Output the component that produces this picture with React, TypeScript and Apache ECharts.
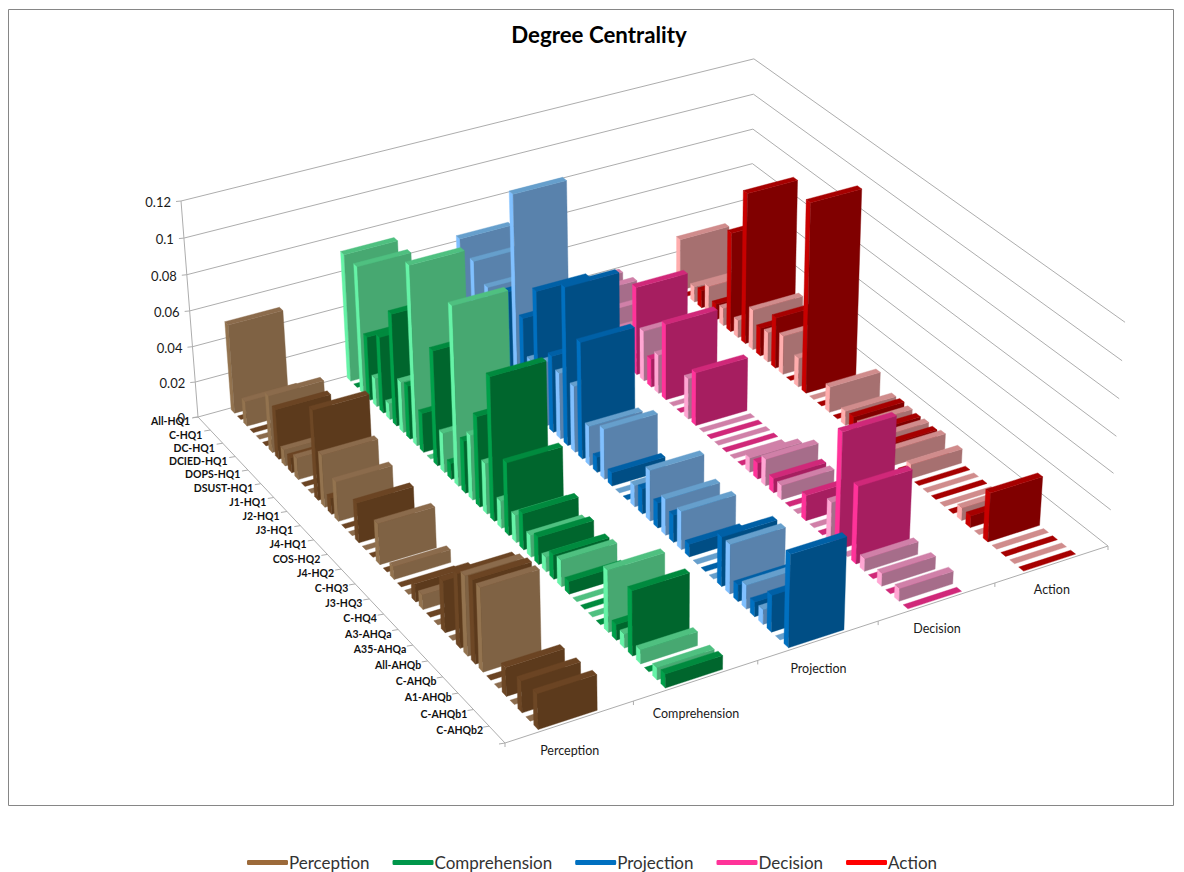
import React, { useEffect, useRef } from "react";
import * as echarts from "echarts";

// Two rows per labelled category: the labelled one in the light tint, then one in the dark tint.
const categoryLabels = [
  "All-HQ1", "C-HQ1", "DC-HQ1", "DCIED-HQ1", "DOPS-HQ1", "DSUST-HQ1", "J1-HQ1", "J2-HQ1",
  "J3-HQ1", "J4-HQ1", "COS-HQ2", "J4-HQ2", "C-HQ3", "J3-HQ3", "C-HQ4", "A3-AHQa",
  "A35-AHQa", "All-AHQb", "C-AHQb", "A1-AHQb", "C-AHQb1", "C-AHQb2",
];
const groupNames = ["Perception", "Comprehension", "Projection", "Decision", "Action"];
const valueTicks = [0, 0.02, 0.04, 0.06, 0.08, 0.1, 0.12];

const perception = [
  0.05, 0, 0.014, 0, 0, 0, 0.032, 0.028, 0.009, 0.0085, 0.012, 0, 0, 0.05, 0.029, 0.009, 0.022, 0, 0, 0.022, 0, 0,
  0.0225, 0, 0.007, 0, 0, 0.01, 0.008, 0, 0, 0.028, 0, 0.04, 0.043, 0.045, 0.045, 0, 0, 0.0155, 0, 0.017, 0, 0.019,
];
const comprehension = [
  0.072, 0, 0.072, 0.036, 0.016, 0.043, 0.009, 0.063, 0.0285, 0.03, 0.1, 0.022, 0, 0.064, 0.022, 0.009, 0.099, 0.029, 0.036, 0.05, 0.028, 0.079,
  0.015, 0.04, 0.015, 0.02, 0.012, 0.015, 0.008, 0.0135, 0.0145, 0.007, 0, 0, 0, 0, 0.0335, 0.0085, 0.0075, 0.035, 0.0075, 0, 0.0065, 0.0075,
];
const projection = [
  0.064, 0.02, 0.058, 0.03, 0.05, 0.03, 0.03, 0.058, 0.115, 0.05, 0.03, 0.072, 0.036, 0.043, 0.037, 0.088, 0.037, 0.065, 0.022, 0.0085, 0.028, 0.0075,
  0, 0, 0.012, 0.014, 0.028, 0.014, 0.02, 0.015, 0.021, 0.007, 0, 0, 0, 0.027, 0.027, 0.009, 0.013, 0.008, 0.008, 0.02, 0, 0.05,
];
const decision = [
  0.02, 0, 0.022, 0, 0.018, 0, 0.015, 0, 0, 0.05, 0.0285, 0.016, 0.022, 0.043, 0, 0, 0.023, 0.03, 0, 0, 0, 0,
  0, 0, 0.008, 0.009, 0.015, 0.008, 0.008, 0, 0, 0.014, 0, 0, 0.022, 0.064, 0, 0.0425, 0.007, 0, 0.007, 0, 0.007, 0,
];
const action = [
  0.03, 0, 0.009, 0.01, 0.016, 0.009, 0.01, 0.057, 0.01, 0.086, 0.023, 0.016, 0.017, 0.029, 0.022, 0, 0.0165, 0.107, 0, 0, 0.0145, 0,
  0.008, 0.0085, 0.008, 0.0075, 0.008, 0.0075, 0.009, 0, 0.008, 0, 0, 0, 0, 0, 0.007, 0.0065, 0, 0.027, 0, 0, 0, 0,
];
const groupValues = [perception, comprehension, projection, decision, action];

const legendColors = ["#9C6A3A", "#00964A", "#0070C0", "#FF3399", "#FF0000"];
// Face shades per group: [front, top, side] for the light tint, then for the dark tint.
const faceShades = [
  [["#7F6244", "#8B6B4C", "#93734F"], ["#5C3A1C", "#6B4423", "#6D4725"]],
  [["#47A871", "#4FC080", "#66F3A7"], ["#00662D", "#008A3E", "#00A04A"]],
  [["#5982AC", "#669FCC", "#80C0FF"], ["#004E85", "#0060A6", "#0070C0"]],
  [["#A66D8A", "#D080A8", "#FFA6D3"], ["#A61E60", "#D02879", "#FF3399"]],
  [["#A67070", "#D08C8C", "#FFADAD"], ["#800000", "#A60000", "#C80000"]],
];

// Box floor corners and the vanishing point of the verticals, in page pixels.
const CORNER_LEFT = [198, 417];
const CORNER_BACK = [751, 265];
const CORNER_RIGHT = [1108, 546];
const CORNER_FRONT = [505, 743];
const VANISH = [665, 6357];
const LEFT_TOP_Y = 201;
const Z_MAX = 0.12;
const ROWS = categoryLabels.length * 2;
const GRID_W = 1000;
const GRID_H = 800;
const BAR_U = [0.27, 0.73];
const BAR_V = [0.22, 0.76];
const GROUP_LABEL_DROP = [29, 33, 28, 27, 25];

function buildProjection() {
  const [x0, y0] = CORNER_LEFT;
  const [x1, y1] = CORNER_BACK;
  const [x2, y2] = CORNER_RIGHT;
  const [x3, y3] = CORNER_FRONT;
  const dx1 = x1 - x2, dx2 = x3 - x2, sx = x0 - x1 + x2 - x3;
  const dy1 = y1 - y2, dy2 = y3 - y2, sy = y0 - y1 + y2 - y3;
  const det = dx1 * dy2 - dx2 * dy1;
  const g = (sx * dy2 - dx2 * sy) / det;
  const h = (dx1 * sy - sx * dy1) / det;
  const a = x1 - x0 + g * x1, b = x3 - x0 + h * x3, c = x0;
  const d = y1 - y0 + g * y1, e = y3 - y0 + h * y3, f = y0;
  const k = (LEFT_TOP_Y - y0) / (VANISH[1] - LEFT_TOP_Y);
  return (u: number, v: number, z: number) => {
    const t = (z / Z_MAX) * k;
    const w = g * u + h * v + 1 + t;
    return [(a * u + b * v + c + t * VANISH[0]) / w, (d * u + e * v + f + t * VANISH[1]) / w];
  };
}
const project = buildProjection();

const FONT = "Lato, Carlito, sans-serif";
const LINE = "#ADADAD";
const line = (points: number[][], lineWidth = 1) => ({
  type: "polyline",
  silent: true,
  shape: { points },
  style: { stroke: LINE, lineWidth, fill: "none" },
});
const label = (text: string, x: number, y: number, align: string, fontSize: number, fontWeight = "normal", fill = "#1a1a1a") => ({
  type: "text",
  silent: true,
  style: { text, x, y, align, verticalAlign: "middle", textAlign: align, textVerticalAlign: "middle", fontSize, fontWeight, fontFamily: FONT, fill },
});

// Back walls with their value gridlines.
function renderWalls() {
  const children: any[] = [];
  valueTicks.forEach((z) => {
    children.push(line([project(0, 0, z), project(1, 0, z), project(1, 1, z)]));
    const p = project(0, 0, z);
    children.push(line([[p[0] - 5, p[1] + 0.5], p]));
  });
  children.push(line([project(0, 0, 0), project(0, 0, Z_MAX)]));
  return { type: "group", children };
}

// Floor edges, ticks and the text of all three axes.
function renderAxes() {
  const children: any[] = [];
  children.push(line([project(0, 0, 0), project(0, 1, 0), project(1, 1, 0)]));
  valueTicks.forEach((z) => {
    const p = project(0, 0, z);
    children.push(label(String(z), p[0] - (z === 0 ? 13 : 10), p[1] + 1, "right", 13));
  });
  categoryLabels.forEach((name, i) => {
    const p = project(0, (2 * i + 1) / ROWS, 0);
    const t = project(0, (2 * i) / ROWS, 0);
    children.push(line([t, [t[0] - 6, t[1] + 1]]));
    children.push(label(name, p[0] - 14, p[1] - 2 - i * 0.1, "right", 10.5, "bold", "#111"));
  });
  children.push(line([project(0, 1, 0), [project(0, 1, 0)[0] - 6, project(0, 1, 0)[1] + 1]]));
  groupNames.forEach((name, i) => {
    const t = project(i / groupNames.length, 1, 0);
    children.push(line([t, [t[0], t[1] + 4]]));
    const p = project((i + 0.5) / groupNames.length, 1, 0);
    children.push(label(name, p[0], p[1] + GROUP_LABEL_DROP[i], "center", 12.5));
  });
  const end = project(1, 1, 0);
  children.push(line([end, [end[0], end[1] + 4]]));
  return { type: "group", children };
}

// One bar: the side, front and top faces, projected from its place in the grid and its value.
function renderBar(params: any, api: any) {
  const group = api.value(0);
  const row = api.value(1);
  const z = api.value(2);
  const shade = faceShades[group][row % 2];
  const toFloor = (g: number, r: number) => {
    const pt = api.coord([g, r]);
    return [pt[0] / GRID_W, pt[1] / GRID_H];
  };
  const [u0, v0] = toFloor(group + BAR_U[0], row + BAR_V[0]);
  const [u1, v1] = toFloor(group + BAR_U[1], row + BAR_V[1]);
  const face = (points: number[][], fill: string) => ({
    type: "polygon",
    silent: true,
    shape: { points },
    style: { fill, stroke: fill, lineWidth: 0.4 },
  });
  const children: any[] = [];
  if (z > 0) {
    children.push(face([project(u0, v0, 0), project(u0, v1, 0), project(u0, v1, z), project(u0, v0, z)], shade[2]));
    children.push(face([project(u0, v1, 0), project(u1, v1, 0), project(u1, v1, z), project(u0, v1, z)], shade[0]));
  }
  children.push(face([project(u0, v0, z), project(u0, v1, z), project(u1, v1, z), project(u1, v0, z)], shade[1]));
  return { type: "group", children };
}

const hiddenAxis = { show: false };

export default function App() {
  const ref = useRef<HTMLDivElement>(null);
  useEffect(() => {
    const chart = echarts.init(ref.current!, null, { renderer: "svg" });
    const barSeries = groupNames
      .map((name, g) => ({
        name,
        type: "custom",
        coordinateSystem: "cartesian2d",
        renderItem: renderBar,
        encode: { x: 0, y: 1 },
        itemStyle: { color: legendColors[g] },
        z: 2 + (groupNames.length - g),
        data: groupValues[g].map((value, row) => [g, row, value]),
      }))
      .reverse();
    chart.setOption({
      animation: false,
      backgroundColor: "#ffffff",
      title: {
        text: "Degree Centrality",
        left: 594,
        top: 18,
        textAlign: "center",
        textStyle: { fontFamily: FONT, fontSize: 22.3, fontWeight: "bold", color: "#000" },
      },
      legend: {
        left: 242,
        top: 849,
        itemWidth: 41,
        itemHeight: 5,
        itemGap: 23,
        icon: "roundRect",
        selectedMode: false,
        textStyle: { fontFamily: FONT, fontSize: 17, color: "#333", padding: [0, 0, 0, -4] },
        data: groupNames.map((name, i) => ({ name, itemStyle: { color: legendColors[i] } })),
      },
      grid: { left: 0, top: 0, width: GRID_W, height: GRID_H, containLabel: false },
      xAxis: { type: "value", min: 0, max: groupNames.length, ...hiddenAxis },
      yAxis: { type: "value", min: 0, max: ROWS, inverse: true, ...hiddenAxis },
      graphic: [
        {
          type: "rect",
          silent: true,
          z: -1,
          shape: { x: 8.5, y: 9.5, width: 1165, height: 796 },
          style: { fill: "none", stroke: "#868686", lineWidth: 1 },
        },
      ],
      series: [
        { name: "walls", type: "custom", coordinateSystem: "cartesian2d", renderItem: renderWalls, z: 1, data: [[0, 0]] },
        ...barSeries,
        { name: "axes", type: "custom", coordinateSystem: "cartesian2d", renderItem: renderAxes, z: 20, data: [[0, 0]] },
      ],
    });
    return () => chart.dispose();
  }, []);
  return <div ref={ref} style={{ position: "absolute", left: 0, top: 0, width: 1184, height: 872 }} />;
}
